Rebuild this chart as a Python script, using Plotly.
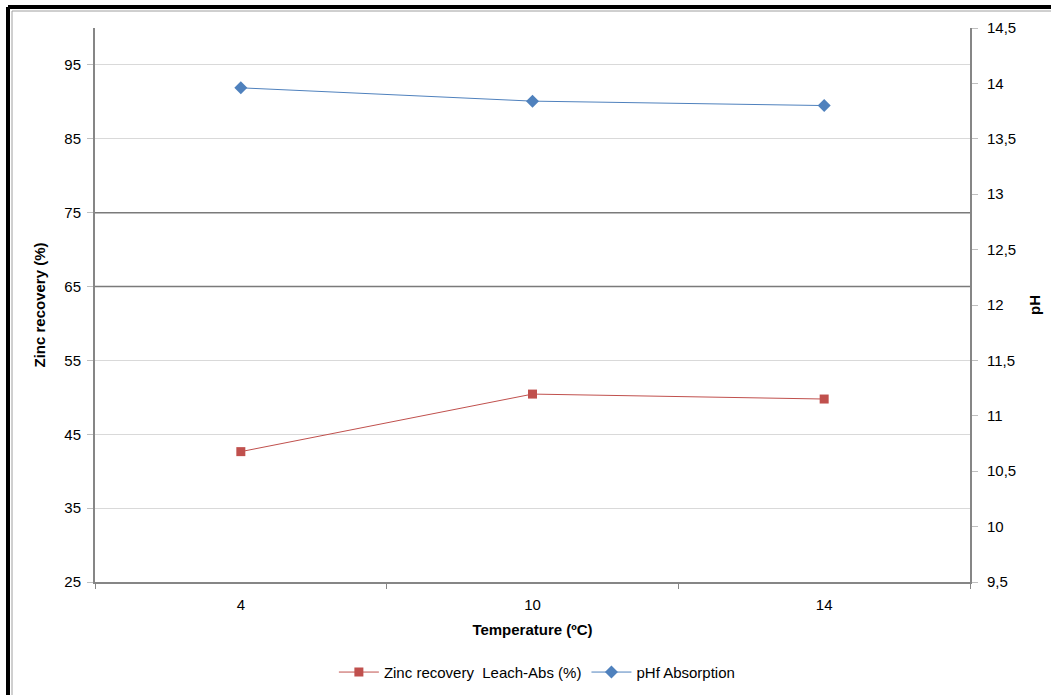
import plotly.graph_objects as go
from plotly.subplots import make_subplots

temps = ["4", "10", "14"]
zinc_recovery = [42.65, 50.44, 49.77]
ph_final = [13.96, 13.84, 13.80]

left_ticks = [25, 35, 45, 55, 65, 75, 85, 95]
right_ticks = [9.5, 10, 10.5, 11, 11.5, 12, 12.5, 13, 13.5, 14, 14.5]
dark_grid = [65, 75]

AXIS = "#868686"
GRID = "#D9D9D9"
FONT = "Liberation Sans"

fig = make_subplots(specs=[[{"secondary_y": True}]])
fig.add_trace(go.Scatter(
    x=temps, y=zinc_recovery, name="Zinc recovery  Leach-Abs (%)",
    mode="lines+markers",
    line=dict(color="#C0504D", width=1),
    marker=dict(symbol="square", size=9, color="#C0504D"),
), secondary_y=False)
fig.add_trace(go.Scatter(
    x=temps, y=ph_final, name="pHf Absorption",
    mode="lines+markers",
    line=dict(color="#4F81BD", width=1),
    marker=dict(symbol="diamond", size=10, color="#4F81BD"),
), secondary_y=True)

shapes = []
for g in dark_grid:
    shapes.append(dict(type="line", xref="paper", yref="y", x0=0, x1=1, y0=g, y1=g,
                       line=dict(color="#7A7A7A", width=1.5), layer="above"))
# outer frame (black + thin gray inner)
L = (8 - 95) / 875
T = 1 + (28 - 7) / 554
Li = (12 - 95) / 875
Ti = 1 + (28 - 11) / 554
shapes += [
    dict(type="line", xref="paper", yref="paper", x0=L, x1=1.2, y0=T, y1=T, line=dict(color="black", width=4)),
    dict(type="line", xref="paper", yref="paper", x0=L, x1=L, y0=-0.3, y1=T, line=dict(color="black", width=4)),
    dict(type="line", xref="paper", yref="paper", x0=Li, x1=1.2, y0=Ti, y1=Ti, line=dict(color="#A0A0A0", width=1)),
    dict(type="line", xref="paper", yref="paper", x0=Li, x1=Li, y0=-0.3, y1=Ti, line=dict(color="#A0A0A0", width=1)),
]

fig.update_layout(
    width=1051, height=695,
    margin=dict(l=95, r=81, t=28, b=113, autoexpand=False),
    paper_bgcolor="white", plot_bgcolor="white",
    separators=",.",
    font=dict(family=FONT, size=15, color="black"),
    showlegend=True,
    legend=dict(orientation="h", x=0.505, xanchor="center", y=-0.163, yanchor="middle",
                font=dict(size=15), itemwidth=40),
    shapes=shapes,
)
fig.update_xaxes(
    type="category", range=[-0.5, 2.5], domain=[0, 1], automargin=False,
    tickson="boundaries", ticks="outside", ticklen=5, tickcolor=AXIS, ticklabelstandoff=8,
    showline=True, linecolor=AXIS, linewidth=2, showgrid=False,
    title=dict(text="<b>Temperature (ºC)</b>", standoff=12, font=dict(size=15)),
)
fig.update_yaxes(
    range=[25, 100], tickvals=left_ticks, ticks="outside", ticklen=6, tickcolor="#BFBFBF",
    ticklabelstandoff=3, automargin=False,
    showline=True, linecolor=AXIS, linewidth=2, gridcolor=GRID, gridwidth=1.2, zeroline=False,
    title=dict(text="<b>Zinc recovery (%)</b>", standoff=15, font=dict(size=15)),
    secondary_y=False,
)
fig.update_yaxes(
    range=[9.5, 14.5], tickvals=right_ticks, ticks="outside", ticklen=6, tickcolor="#BFBFBF",
    ticklabelstandoff=6, automargin=False,
    showline=True, linecolor=AXIS, linewidth=2, showgrid=False, zeroline=False,
    title=dict(text="<b>pH</b>", standoff=14, font=dict(size=15)),
    secondary_y=True,
)

fig.write_html("out.html")
